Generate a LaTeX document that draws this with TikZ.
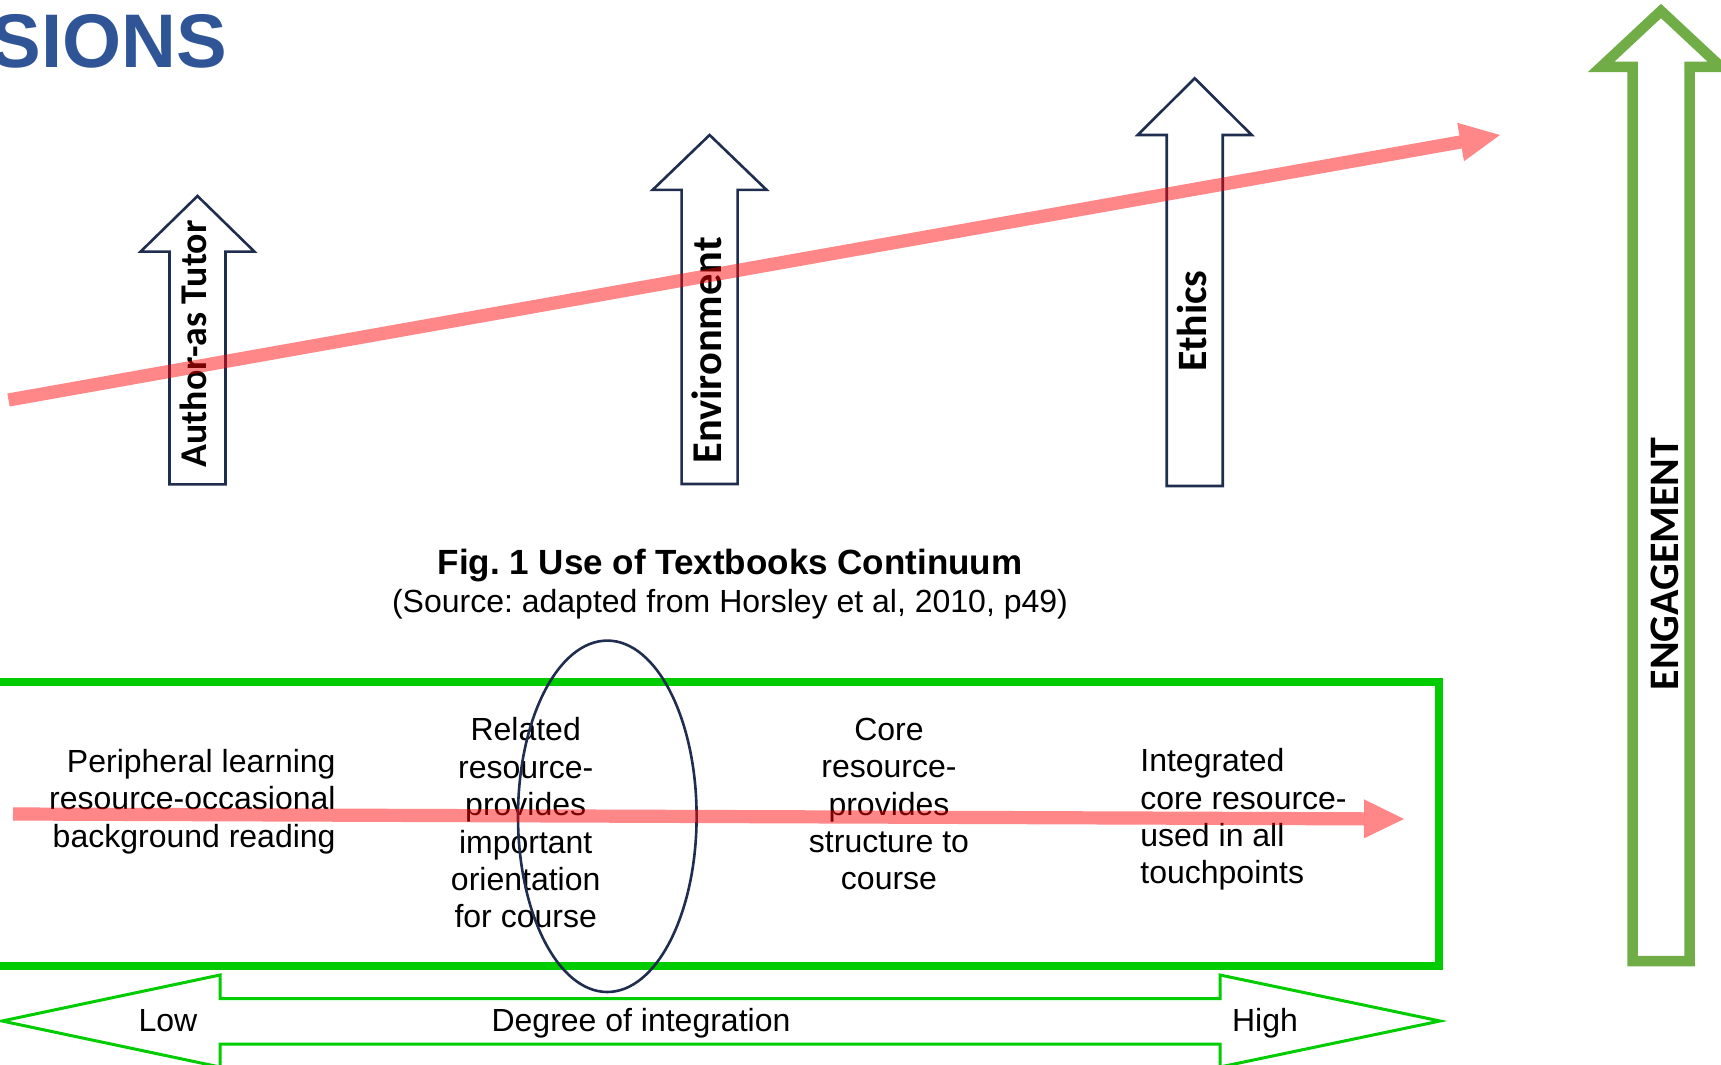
\documentclass[tikz,border=0pt]{standalone}
\usepackage{fontspec}
\setmainfont{Liberation Sans}
\newfontfamily\calib{Carlito}
\usepackage{xcolor}
\usepackage{tikz}
\usetikzlibrary{arrows.meta}
\frenchspacing
\definecolor{ink}{HTML}{000000}
\definecolor{sNavy}{HTML}{1F2D4F}
\definecolor{sTitle}{HTML}{2F5597}
\definecolor{sGreen}{HTML}{00CC00}
\definecolor{sLeaf}{HTML}{70AD47}
\definecolor{sRed}{HTML}{FF0000}
\tikzset{
  upbox/.style={draw=sNavy, line width=1.3pt, fill=white, line join=miter},
  trend/.style={draw=sRed, opacity=0.47, line width=6.6pt, -{Triangle[length=20pt, width=19.5pt, line width=0pt]}},
  vlbl/.style={font=\calib\bfseries\fontsize{20}{24}\selectfont, rotate=90, text=ink, inner sep=0pt},
  lbl/.style={font=\fontsize{16}{18.7}\selectfont, text=ink, inner sep=0pt},
}
\newcommand{\blockup}[4]{\draw[upbox] (#1-28,#4) -- (#1-28,#3) -- (#1-57,#3) -- (#1,#2) -- (#1+57,#3) -- (#1+28,#3) -- (#1+28,#4) -- cycle;}

\begin{document}
\begin{tikzpicture}[x=0.5pt, y=-0.5pt]
\useasboundingbox (0,0) rectangle (1721,1065);
\clip (0,0) rectangle (1721,1065);
\node[anchor=base east, inner sep=0pt, text=sTitle, font=\bfseries\fontsize{38}{40}\selectfont] (title) at (227.5,68) {SIONS};
\blockup{197.5}{196}{251.7}{484.3}
\blockup{709.6}{135}{189.9}{484}
\blockup{1194.7}{78.3}{135}{486}
\node[vlbl, font=\calib\bfseries\fontsize{18.9}{24}\selectfont] (tutor) at (193,344) {Author-as Tutor};
\node[vlbl, font=\calib\bfseries\fontsize{21.2}{24}\selectfont] (envir) at (707,350.5) {Environment};
\node[vlbl, font=\calib\bfseries\fontsize{20.9}{24}\selectfont] (ethics) at (1192,321) {Ethics};
\draw[sLeaf, line width=5.25pt, line join=miter, fill=white] (1632.5,961) -- (1632.5,67) -- (1601,67) -- (1661,11) -- (1721,67) -- (1689.5,67) -- (1689.5,961) -- cycle;
\node[vlbl, font=\calib\bfseries\fontsize{21}{24}\selectfont] (engage) at (1665,564) {ENGAGEMENT};
\node[lbl, font=\bfseries\fontsize{17.5}{20}\selectfont, anchor=base] (figcap) at (730,574) {Fig. 1 Use of Textbooks Continuum};
\node[lbl, anchor=base] (source) at (730,612.5) {(Source: adapted from Horsley et al, 2010, p49)};
\draw[sGreen, line width=4.4pt] (-30,682) rectangle (1439,966);
\node[lbl, align=right, anchor=east] (periph) at (336,801.5) {Peripheral learning\\resource-occasional\\background reading};
\node[lbl, align=center] (related) at (525.7,823) {Related\\resource-\\provides\\important\\orientation\\for course};
\node[lbl, align=center] (core) at (889,804) {Core\\resource-\\provides\\structure to\\course};
\node[lbl, align=left, anchor=west] (integ) at (1140,819.5) {Integrated\\core resource-\\used in all\\touchpoints};
\draw[sNavy, line width=1.3pt] (607.3,816.3) ellipse [x radius=89.3, y radius=175.7];
\draw[sGreen, line width=1.5pt, line join=miter] (2,1021) -- (220,975) -- (220,998.5) -- (1220,998.5) -- (1220,975) -- (1440,1021) -- (1220,1067) -- (1220,1044) -- (220,1044) -- (220,1067) -- cycle;
\node[lbl, anchor=base] (low) at (168,1031) {Low};
\node[lbl, anchor=base] (degree) at (641,1031) {Degree of integration};
\node[lbl, anchor=base] (high) at (1265,1031) {High};
\coordinate (upfrom) at (8.5,400);
\coordinate (upto) at (1500,135);
\coordinate (lowfrom) at (13,814);
\coordinate (lowto) at (1404,819);
\draw[trend] (upfrom) -- (upto);
\draw[trend] (lowfrom) -- (lowto);
\end{tikzpicture}
\end{document}
